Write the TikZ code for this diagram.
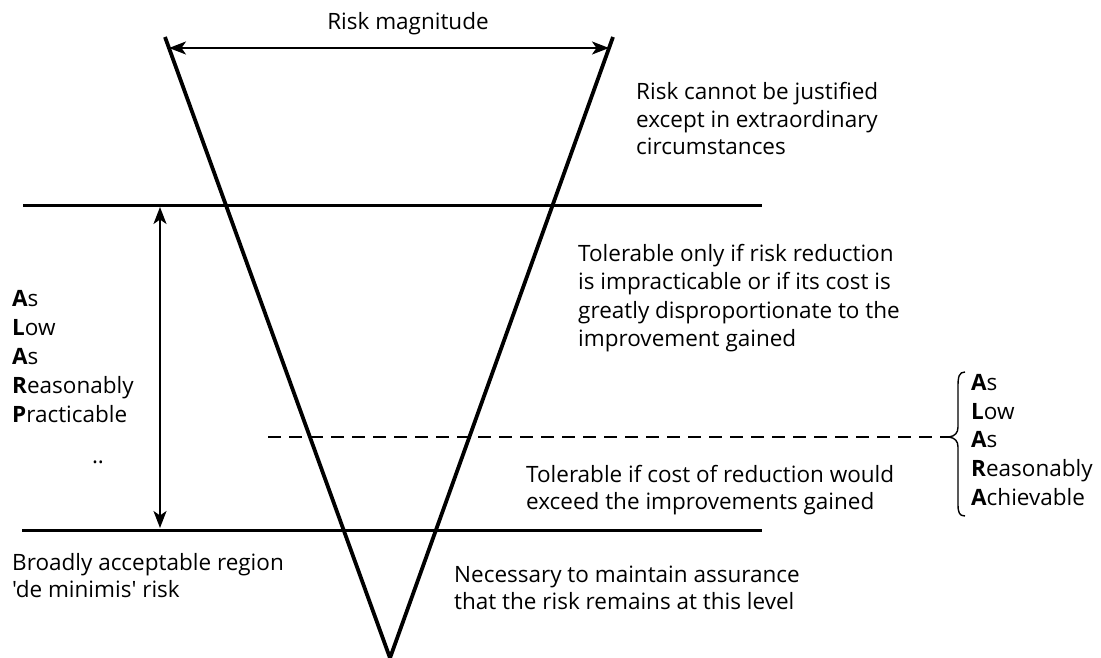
\documentclass[tikz,border=0pt]{standalone}
\usepackage{fontspec}
\setmainfont{Open Sans}
% same family without TeX ligatures, so that ' stays a straight quote
\newfontfamily\plainfont{Open Sans}
\usetikzlibrary{arrows.meta}
\begin{document}
\begin{tikzpicture}[x=1pt,y=-1pt,
  lbl/.style={anchor=west, align=left, inner sep=0pt,
    font=\fontsize{22.5}{27.5}\selectfont},
  vline/.style={line width=3.8pt, line join=miter},
  level/.style={line width=3pt},
  dashlevel/.style={line width=2.5pt, dash pattern=on 13pt off 8pt},
  dimarrow/.style={line width=2.2pt, {Stealth[length=17pt,width=13pt,inset=4.5pt]}-{Stealth[length=17pt,width=13pt,inset=4.5pt]}},
  bracket/.style={line width=1.4pt}]
\useasboundingbox[fill=white] (0,0) rectangle (1101,658);

% the inverted triangle of risk
\coordinate (vl) at (165,37);
\coordinate (vr) at (613,37);
\coordinate (vb) at (390,658);
\draw[vline] (vl) -- (vb) -- (vr);

% risk magnitude span
\coordinate (ml) at (169,48);
\coordinate (mr) at (609,48);
\draw[dimarrow] (ml) -- (mr);
\node[lbl, anchor=center] (mag) at (408,24) {Risk magnitude};

% region boundaries
\coordinate (ul) at (23,205);
\coordinate (ur) at (762,205);
\draw[level] (ul) -- (ur);
\coordinate (ll) at (22,530);
\coordinate (lr) at (762,530);
\draw[level] (ll) -- (lr);
\coordinate (dl) at (268,437);
\coordinate (dr) at (949,437);
\draw[dashlevel] (dl) -- (dr);

% ALARP span
\coordinate (at) at (160,207);
\coordinate (ab) at (160,528);
\draw[dimarrow] (at) -- (ab);

% ALARA bracket
\coordinate (bt) at (965,372);
\coordinate (bb) at (965,516);
\draw[bracket] (bt) .. controls (959,372) and (958,377) .. (958,386)
  -- (958,427) .. controls (958,433) and (955,436) .. (dr)
  .. controls (955,438) and (958,441) .. (958,447)
  -- (958,504) .. controls (958,512) and (959,516) .. (bb);

% region descriptions
\node[lbl] (unjust) at (636,119) {Risk cannot be justified\\except in extraordinary\\circumstances};
\node[lbl, font=\fontsize{22.5}{28.3}\selectfont] (tolonly) at (578,298) {Tolerable only if risk reduction\\is impracticable or if its cost is\\greatly disproportionate to the\\improvement gained};
\node[lbl] (tolif) at (526,490) {Tolerable if cost of reduction would\\exceed the improvements gained};
\node[lbl] (maint) at (454,588) {Necessary to maintain assurance\\that the risk remains at this level};
\node[lbl, font=\plainfont\fontsize{22.5}{27}\selectfont] (broad) at (12,576) {Broadly acceptable region\\'de minimis' risk};

\node[lbl, font=\fontsize{22.5}{29}\selectfont] (alarp) at (12,357)
  {\textbf{A}s\\\textbf{L}ow\\\textbf{A}s\\\textbf{R}easonably\\\textbf{P}racticable};
\node[lbl, font=\fontsize{22.5}{28.7}\selectfont] (alara) at (971,440)
  {\textbf{A}s\\\textbf{L}ow\\\textbf{A}s\\\textbf{R}easonably\\\textbf{A}chievable};
\node[lbl, anchor=center] (dots) at (98,462) {..};
\end{tikzpicture}
\end{document}
